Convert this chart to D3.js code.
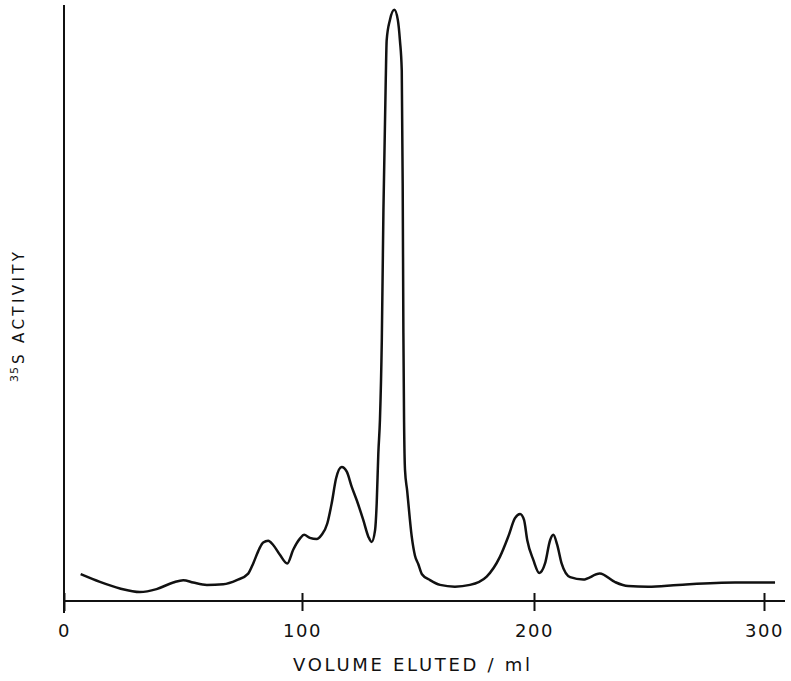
<!DOCTYPE html>
<html>
<head>
<meta charset="utf-8">
<script src="https://cdn.jsdelivr.net/npm/d3@7"></script>
<style>
  html, body { margin: 0; padding: 0; background: #fff; }
  svg { display: block; }
</style>
</head>
<body>
<div id="chart"></div>
<script>
// elution profile, volume in ml / activity in arbitrary units (0-100 = axis height)
const volume = [
  7.0, 15.1, 23.5, 31.9, 38.9, 45.9, 50.1, 54.3, 60.0, 66.9,
  72.6, 77.4, 79.5, 82.1, 83.7, 85.8, 87.9, 90.8, 93.8, 96.3,
  99.2, 100.9, 103.4, 106.3, 108.5, 110.9, 112.8, 114.7, 117.1, 119.3,
  121.4, 123.6, 126.4, 128.6, 130.0, 131.5, 132.2, 132.9, 133.6, 134.4,
  135.1, 136.1, 136.5, 137.9, 139.8, 141.3, 142.2, 143.0, 143.4, 143.7,
  144.0, 144.4, 145.3, 147.3, 148.7, 150.1, 151.7, 155.2, 159.5, 165.9,
  172.4, 179.6, 185.3, 188.9, 191.8, 194.0, 195.7, 197.1, 199.7, 202.3,
  204.8, 207.0, 208.4, 210.1, 212.0, 215.7, 221.4, 228.6, 235.1, 240.9,
  249.6, 262.6, 287.4, 304.8
];
const activity = [
  4.5, 3.2, 2.1, 1.5, 2.0, 3.1, 3.5, 3.1, 2.7, 2.8,
  3.5, 4.6, 6.3, 8.8, 9.8, 10.1, 9.4, 7.7, 6.3, 8.6,
  10.5, 11.1, 10.6, 10.4, 11.1, 13.0, 16.4, 20.6, 22.5, 21.7,
  19.2, 16.9, 13.6, 10.8, 9.9, 11.9, 16.4, 24.8, 30.4, 43.8,
  65.6, 87.4, 94.1, 97.5, 99.2, 97.5, 94.1, 89.0, 70.0, 45.0,
  30.0, 22.0, 18.6, 10.8, 7.6, 6.2, 4.5, 3.5, 2.7, 2.4,
  2.7, 4.1, 7.4, 10.8, 13.9, 14.6, 13.6, 10.2, 6.9, 4.7,
  6.3, 10.2, 11.1, 9.4, 6.3, 4.0, 3.6, 4.6, 3.2, 2.5,
  2.4, 2.7, 3.1, 3.1
];
const xTicks = [0, 100, 200, 300];
const xTitle = "VOLUME ELUTED / ml";
const yTitle = "S ACTIVITY";
const yIsotope = "35";

const width = 791, height = 681;
const ink = "#111";
const font = "DejaVu Sans, Verdana, sans-serif";

const data = volume.map((v, i) => ({v: v, a: activity[i]}));

// the printed axis is slightly uneven, so map each 100 ml step separately
const x = d3.scaleLinear()
    .domain([0, 100, 200, 300])
    .range([64, 302, 534, 764]);

const y = d3.scaleLinear()
    .domain([0, 100])
    .range([601, 5]);

const svg = d3.select("#chart")
    .append("svg")
    .attr("width", width)
    .attr("height", height);

//y axis (no ticks, runs a little below the x axis)
svg.append("line")
    .attr("x1", x(0)).attr("x2", x(0))
    .attr("y1", y(100)).attr("y2", y(0) + 12)
    .attr("stroke", ink)
    .attr("stroke-width", 2);

//x axis
const xAxis = d3.axisBottom(x)
    .tickValues(xTicks)
    .tickSizeInner(10)
    .tickSizeOuter(0)
    .tickFormat(d3.format("d"));

const gx = svg.append("g")
    .attr("transform", `translate(0, ${y(0)})`)
    .call(xAxis);

gx.select(".domain").remove();
gx.append("line")
    .attr("x1", x(0)).attr("x2", x(300) + 21)
    .attr("stroke", ink)
    .attr("stroke-width", 2);
gx.selectAll(".tick line")
    .attr("y1", -8)
    .attr("stroke", ink)
    .attr("stroke-width", 2);
gx.selectAll(".tick text")
    .attr("y", 36)
    .attr("dy", null)
    .attr("fill", ink)
    .style("font-family", font)
    .style("font-size", "18px")
    .style("letter-spacing", "1.5px");

//curve
const line = d3.line()
    .x(d => x(d.v))
    .y(d => y(d.a))
    .curve(d3.curveMonotoneX);

svg.append("path")
    .attr("d", line(data))
    .attr("fill", "none")
    .attr("stroke", ink)
    .attr("stroke-width", 2.5)
    .attr("stroke-linejoin", "round");

//axis titles
svg.append("text")
    .attr("x", 293)
    .attr("y", 671)
    .attr("textLength", 237)
    .attr("lengthAdjust", "spacing")
    .attr("fill", ink)
    .style("font-family", font)
    .style("font-size", "18px")
    .text(xTitle);

const yt = svg.append("text")
    .attr("transform", "translate(24, 382) rotate(-90)")
    .attr("fill", ink)
    .style("font-family", font);

yt.append("tspan")
    .attr("dy", -6)
    .style("font-size", "11px")
    .style("letter-spacing", "1px")
    .text(yIsotope);
yt.append("tspan")
    .attr("dy", 6)
    .attr("dx", 2)
    .style("font-size", "15px")
    .style("letter-spacing", "3.4px")
    .text(yTitle);
</script>
</body>
</html>
